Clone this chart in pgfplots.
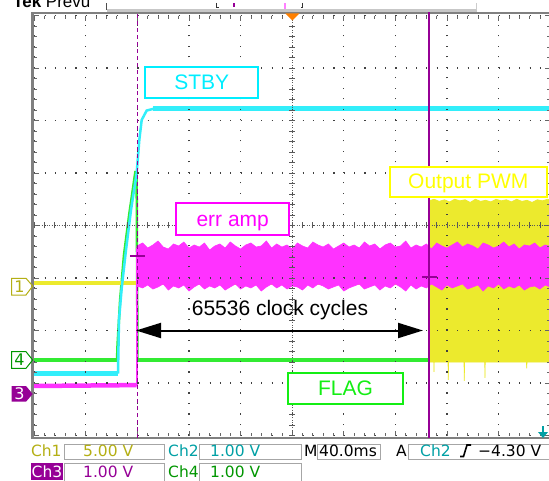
\documentclass[border=0pt]{standalone}
\usepackage{pgfplots}
\pgfplotsset{compat=1.18}
\usepackage{fontspec}
\setmainfont{Liberation Sans}
\newfontfamily\tekfont{DejaVu Sans}
\usetikzlibrary{arrows.meta}
\definecolor{trcyan}{RGB}{50,238,250}
\definecolor{trgreen}{RGB}{50,235,50}
\definecolor{trmag}{RGB}{255,50,255}
\definecolor{tryel}{RGB}{236,234,45}
\definecolor{lbcyan}{RGB}{0,238,255}
\definecolor{lbmag}{RGB}{255,0,255}
\definecolor{lbyel}{RGB}{255,255,0}
\definecolor{lbgreen}{RGB}{20,238,20}
\definecolor{cursorp}{RGB}{150,0,150}
\definecolor{olive1}{RGB}{180,175,20}
\definecolor{teal2}{RGB}{0,160,165}
\definecolor{green4}{RGB}{0,150,0}
\definecolor{trigor}{RGB}{255,128,0}
\begin{document}
\begin{tikzpicture}
\useasboundingbox (0pt,0pt) rectangle (549pt,480pt);
\clip (0pt,0pt) rectangle (549pt,480pt);
\fill[white] (0pt,0pt) rectangle (549pt,480pt);
\begin{axis}[
  at={(34.2pt,44.5pt)}, anchor=south west,
  scale only axis, width=516pt, height=420pt,
  xmin=0, xmax=10, ymin=-4, ymax=4,
  xtick={0,...,10}, ytick={-4,...,4}, minor tick num=4,
  xticklabels={}, yticklabels={},
  major tick length=5pt, minor tick length=3pt,
  every tick/.style={black!60, line width=0.7pt},
  axis line style={draw=none},
  grid=major,
  major x grid style={black!75, line width=1.1pt, dash pattern=on 1.1pt off 9.4pt},
  major y grid style={black!75, line width=1.1pt, dash pattern=on 1.1pt off 9.22pt},
  axis on top,
]
% Ch4 FLAG (green)
\addplot[trgreen, line width=4.5pt] coordinates {(0,-2.56)(1.605,-2.56)};
\addplot[trgreen, line width=2.5pt] coordinates {(1.605,-2.56)(1.615,-2.276)(1.665,-1.419)(1.74,-0.562)(1.84,0.2)(1.96,1.019)(1.985,1.019)(2.002,-2.56)};
\addplot[trgreen, line width=4.5pt] coordinates {(2.002,-2.56)(10,-2.56)};
% Ch1 Output PWM (yellow)
\addplot[tryel, line width=4.5pt] coordinates {(0,-1.095)(7.651,-1.095)};
\addplot[fill=tryel, draw=tryel, line width=0.7pt] coordinates {
 (7.651,0.47)(7.75,0.50)(7.85,0.46)(7.95,0.49)(8.05,0.45)(8.15,0.50)(8.25,0.47)(8.35,0.49)(8.45,0.44)(8.55,0.50)(8.65,0.46)(8.75,0.48)(8.85,0.45)(8.95,0.50)(9.05,0.47)(9.15,0.49)(9.25,0.45)(9.35,0.50)(9.45,0.46)(9.55,0.48)(9.65,0.44)(9.75,0.49)(9.85,0.47)(9.95,0.50)(10.05,0.47)
 (10.05,-2.60)(9.55,-2.60)(9.545,-2.72)(9.54,-2.60)(8.74,-2.60)(8.736,-2.90)(8.732,-2.60)(8.34,-2.60)(8.335,-2.96)(8.33,-2.60)(8.03,-2.60)(8.025,-2.94)(8.02,-2.60)(7.75,-2.60)(7.748,-2.79)(7.745,-2.60)(7.651,-2.60)(7.651,0.47)};
% Ch2 STBY (cyan)
\addplot[trcyan, line width=4.5pt] coordinates {(0,-2.819)(1.624,-2.819)};
\addplot[trcyan, line width=2.5pt] coordinates {(1.624,-2.819)(1.643,-1.8)(1.696,-1.19)(1.779,-0.467)(1.876,0.295)(1.986,1.0)(2.037,1.629)(2.083,2.01)(2.18,2.19)(2.341,2.23)};
\addplot[trcyan, line width=4.5pt] coordinates {(2.30,2.23)(10,2.23)};
% Ch3 err amp (magenta)
\addplot[trmag, line width=4.5pt] coordinates {(0,-3.057)(1.983,-3.04)};
\addplot[trmag, line width=2pt] coordinates {(1.983,-3.05)(1.983,-0.42)};
\addplot[fill=trmag, draw=trmag, line width=0.6pt] coordinates {
 (1.99,-0.390)(2.1,-0.333)(2.2,-0.429)(2.3,-0.371)(2.4,-0.295)(2.5,-0.410)(2.6,-0.448)(2.7,-0.352)(2.8,-0.390)(2.9,-0.314)
 (3.0,-0.429)(3.1,-0.371)(3.2,-0.410)(3.3,-0.333)(3.4,-0.467)(3.5,-0.390)(3.6,-0.352)(3.7,-0.429)(3.8,-0.314)(3.9,-0.390)
 (4.0,-0.448)(4.1,-0.371)(4.2,-0.333)(4.3,-0.410)(4.4,-0.390)(4.5,-0.295)(4.6,-0.429)(4.7,-0.352)(4.8,-0.410)(4.9,-0.371)
 (5.0,-0.448)(5.1,-0.333)(5.2,-0.390)(5.3,-0.429)(5.4,-0.314)(5.5,-0.371)(5.6,-0.410)(5.7,-0.352)(5.8,-0.448)(5.9,-0.390)
 (6.0,-0.333)(6.1,-0.410)(6.2,-0.371)(6.3,-0.429)(6.4,-0.314)(6.5,-0.390)(6.6,-0.352)(6.7,-0.448)(6.8,-0.371)(6.9,-0.333)
 (7.0,-0.410)(7.1,-0.390)(7.2,-0.295)(7.3,-0.429)(7.4,-0.371)(7.5,-0.410)(7.6,-0.352)(7.7,-0.448)(7.8,-0.333)(7.9,-0.390)
 (8.0,-0.429)(8.1,-0.371)(8.2,-0.314)(8.3,-0.410)(8.4,-0.352)(8.5,-0.390)(8.6,-0.448)(8.7,-0.333)(8.8,-0.371)(8.9,-0.429)
 (9.0,-0.390)(9.1,-0.314)(9.2,-0.410)(9.3,-0.352)(9.4,-0.448)(9.5,-0.371)(9.6,-0.390)(9.7,-0.333)(9.8,-0.429)(9.9,-0.371)(10.05,-0.410)
 (10.05,-1.190)(9.9,-1.133)(9.8,-1.210)(9.7,-1.152)(9.6,-1.171)(9.5,-1.229)(9.4,-1.133)(9.3,-1.190)(9.2,-1.152)(9.1,-1.210)
 (9.0,-1.114)(8.9,-1.190)(8.8,-1.152)(8.7,-1.248)(8.6,-1.133)(8.5,-1.171)(8.4,-1.210)(8.3,-1.114)(8.2,-1.152)(8.1,-1.190)
 (8.0,-1.133)(7.9,-1.229)(7.8,-1.171)(7.7,-1.114)(7.6,-1.190)(7.5,-1.152)(7.4,-1.210)(7.3,-1.133)(7.2,-1.248)(7.1,-1.171)
 (7.0,-1.114)(6.9,-1.190)(6.8,-1.152)(6.7,-1.229)(6.6,-1.133)(6.5,-1.171)(6.4,-1.210)(6.3,-1.114)(6.2,-1.152)(6.1,-1.190)
 (6.0,-1.248)(5.9,-1.133)(5.8,-1.171)(5.7,-1.210)(5.6,-1.152)(5.5,-1.114)(5.4,-1.190)(5.3,-1.133)(5.2,-1.229)(5.1,-1.171)
 (5.0,-1.152)(4.9,-1.210)(4.8,-1.133)(4.7,-1.190)(4.6,-1.114)(4.5,-1.171)(4.4,-1.248)(4.3,-1.133)(4.2,-1.190)(4.1,-1.152)
 (4.0,-1.210)(3.9,-1.114)(3.8,-1.171)(3.7,-1.229)(3.6,-1.133)(3.5,-1.190)(3.4,-1.152)(3.3,-1.210)(3.2,-1.114)(3.1,-1.171)
 (3.0,-1.248)(2.9,-1.133)(2.8,-1.190)(2.7,-1.152)(2.6,-1.229)(2.5,-1.114)(2.4,-1.171)(2.3,-1.210)(2.2,-1.133)(2.1,-1.190)(1.99,-1.152)(1.99,-0.390)};
\end{axis}
\begin{scope}[x=1pt,y=1pt]
% frame
\draw[black!50, line width=2.5pt] (32.4,42) rectangle (553,467.1);
% center crosshair
\draw[black!65, line width=0.9pt, dash pattern=on 0.9pt off 1.6pt] (292.2,44.5)--(292.2,464.5);
\draw[black!65, line width=0.9pt, dash pattern=on 0.9pt off 1.6pt] (34.2,254.5)--(550.2,254.5);
\foreach \k in {0,...,40} \draw[black!65, line width=0.7pt] (289.2,{44.5+10.5*\k}) -- (295.2,{44.5+10.5*\k});
\foreach \k in {0,...,50} \draw[black!65, line width=0.7pt] ({34.2+10.32*\k},251.5) -- ({34.2+10.32*\k},257.5);
% cursors
\draw[cursorp, line width=1.5pt, dash pattern=on 4pt off 3pt] (137.4,42) -- (137.4,468);
\draw[cursorp, line width=1.5pt] (429,42) -- (429,468);
\draw[cursorp, line width=1.2pt] (130,224) -- (145,224);
\draw[cursorp, line width=1.2pt] (422,203) -- (437,203);
% trigger markers
\fill[trigor] (285.4,466.5) -- (299.4,466.5) -- (292.4,459.5) -- cycle;
\fill[teal2] (538,48) -- (548,48) -- (543,42) -- cycle;
\draw[teal2, line width=1.5pt] (543,48) -- (543,54);
% top record bar
\node[anchor=base west, font=\fontsize{17}{20}\selectfont, inner sep=0pt] at (13,472) {\textbf{Tek} Prevu};
\draw[black!22, line width=2.5pt] (106.7,469.5) -- (476.7,469.5);
\draw[black!70, line width=1pt] (106.7,470) -- (106.7,477);
\draw[black!20, line width=1.5pt] (476.7,470) -- (476.7,477);
\draw[black!80, line width=1pt] (216.7,477) -- (216.7,472) -- (219,472);
\draw[black!80, line width=1pt] (302.7,477) -- (302.7,472) -- (300.5,472);
\draw[cursorp, line width=1.2pt] (234,473) -- (234,477);
\draw[lbmag!50, line width=2pt] (285,471) -- (285,477);
% channel markers at left
\draw[olive1, line width=1pt] (11.7,201.7) -- (26,201.7) -- (32.7,194) -- (26,185) -- (11.7,185) -- cycle;
\node[olive1, font=\tekfont\fontsize{16}{18}\selectfont] at (19.5,193.3) {1};
\draw[green4, line width=1pt] (11.7,128.3) -- (26,128.3) -- (32.7,120) -- (26,111.7) -- (11.7,111.7) -- cycle;
\node[green4, font=\tekfont\fontsize{16}{18}\selectfont] at (19.5,120) {4};
\fill[cursorp] (11.7,94) -- (26,94) -- (32.7,86) -- (26,78.3) -- (11.7,78.3) -- cycle;
\node[white, font=\tekfont\fontsize{16}{18}\selectfont] at (19.5,86.2) {3};
% labels
\filldraw[fill=white, draw=lbcyan, line width=2pt] (145,413.3) rectangle (258.3,381.7);
\node[lbcyan, anchor=base, inner sep=0pt, font=\fontsize{21}{24}\selectfont] at (201.7,390.7) {STBY};
\filldraw[fill=white, draw=lbmag, line width=2pt] (176,276.7) rectangle (289.3,245);
\node[lbmag, anchor=base, inner sep=0pt, font=\fontsize{21}{24}\selectfont] at (232.7,253.3) {err amp};
\filldraw[fill=white, draw=lbyel, line width=2pt] (390,313.3) rectangle (546.7,283.3);
\node[lbyel, anchor=base, inner sep=0pt, font=\fontsize{21}{24}\selectfont] at (468.3,291) {Output PWM};
\filldraw[fill=white, draw=lbgreen, line width=2pt] (288.3,107.3) rectangle (402.7,76);
\node[lbgreen, anchor=base, inner sep=0pt, font=\fontsize{21}{24}\selectfont] at (345.5,85) {FLAG};
% arrow + text
\draw[line width=2pt, {Triangle[length=25pt,width=15pt]}-{Triangle[length=25pt,width=15pt]}] (136,149.5) -- (423,149.5);
\node[anchor=base, inner sep=0pt, font=\fontsize{21}{24}\selectfont] at (280,164.3) {65536 clock cycles};
% status bar
\begin{scope}[every node/.style={anchor=base west, inner sep=0pt, font=\tekfont\fontsize{15.5}{18}\selectfont}]
\draw[black!35, line width=1pt] (64.8,36) rectangle (164.6,20.2);
\draw[black!35, line width=1pt] (199.6,36) rectangle (301,20.2);
\draw[black!35, line width=1pt] (317,36) rectangle (380,20.2);
\draw[black!35, line width=1pt] (408,36) rectangle (560,20.2);
\draw[black!35, line width=1pt] (64.8,17) rectangle (164.6,-1);
\draw[black!35, line width=1pt] (199.6,17) rectangle (301,-1);
\node[olive1] at (30.8,23.7) {Ch1};
\node[olive1] at (83,23.7) {5.00 V};
\node[teal2] at (168,23.7) {Ch2};
\node[teal2] at (210,23.7) {1.00 V};
\node[black] at (304,23.7) {M};
\node[black] at (319,23.7) {40.0ms};
\node[black] at (396,23.7) {A};
\node[teal2] at (420,23.7) {Ch2};
\draw[black, line width=1.6pt] (460,23.5) -- (463.5,23.5) -- (467,35) -- (471,35);
\node[black] at (478,23.7) {−4.30 V};
\fill[cursorp] (30.8,17) rectangle (63,0);
\node[white] at (31.5,3) {Ch3};
\node[cursorp] at (83,3) {1.00 V};
\node[green4] at (168,3) {Ch4};
\node[green4] at (210,3) {1.00 V};
\end{scope}
\end{scope}
\end{tikzpicture}
\end{document}
